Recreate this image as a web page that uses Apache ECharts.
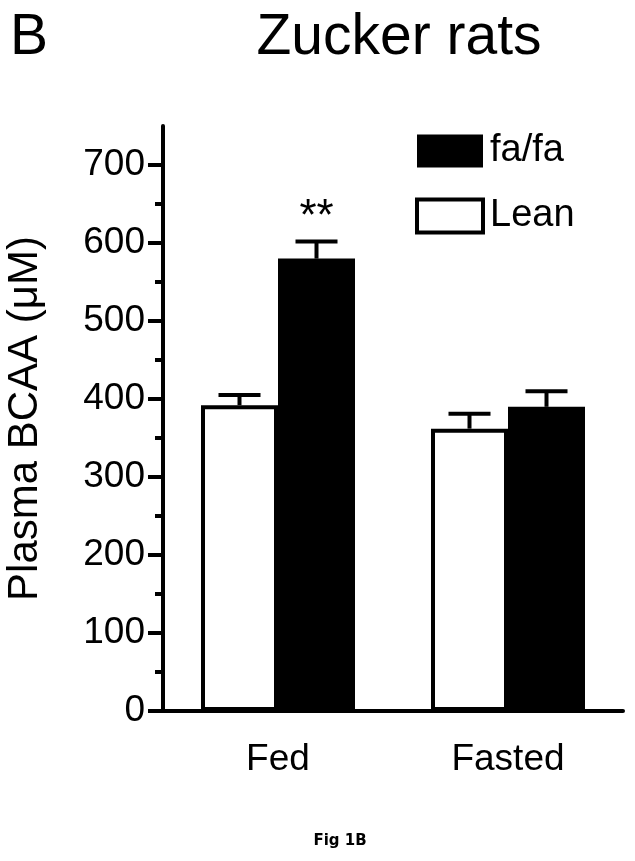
<!DOCTYPE html>
<html lang="en">
  <head>
    <meta charset="UTF-8" />
    <title>Zucker rats - Plasma BCAA</title>
    <script src="https://cdnjs.cloudflare.com/ajax/libs/echarts/6.0.0/echarts.min.js"></script>
    <style>
      html,
      body {
        margin: 0;
        padding: 0;
        background: #fff;
      }
      #chart {
        width: 635px;
        height: 861px;
      }
    </style>
  </head>
  <body>
    <div id="chart"></div>
    <script type="text/javascript">
      // data
      const categories = ["Fed", "Fasted"];
      const leanMean = [392, 362];
      const leanSem = [13, 19];
      const fafaMean = [580, 390];
      const fafaSem = [22, 20];
      const fafaSig = ["**", ""];
      const yMajorTicks = [0, 100, 200, 300, 400, 500, 600, 700];
      const yMinorTicks = [50, 150, 250, 350, 450, 550, 650];

      const font = "Liberation Sans";
      const barWidth = 77;
      const capWidth = 42;

      const dom = document.getElementById("chart");
      const myChart = echarts.init(dom);

      // error bars (upper only) drawn on top of the bars
      const errorSeries = (means, sems, side, sig) => ({
        type: "custom",
        z: 5,
        silent: true,
        data: means.map((m, i) => [i, m, m + sems[i], sig ? sig[i] : ""]),
        renderItem: (params, api) => {
          const base = api.coord([api.value(0), api.value(1)]);
          const top = api.coord([api.value(0), api.value(2)]);
          const cx = base[0] + (side * barWidth) / 2;
          const style = { stroke: "#000", lineWidth: 4 };
          const children = [
            {
              type: "line",
              shape: { x1: cx, y1: base[1], x2: cx, y2: top[1] },
              style: style,
            },
            {
              type: "line",
              shape: {
                x1: cx - capWidth / 2,
                y1: top[1],
                x2: cx + capWidth / 2,
                y2: top[1],
              },
              style: style,
            },
          ];
          const txt = api.value(3);
          if (txt) {
            children.push({
              type: "text",
              x: cx,
              y: top[1] - 24,
              style: {
                text: txt,
                fill: "#000",
                font: "44px " + font,
                align: "center",
                verticalAlign: "middle",
              },
            });
          }
          return { type: "group", children: children };
        },
      });

      const options = {
        animation: false,
        textStyle: { fontFamily: font, color: "#000" },
        title: [
          {
            text: "B",
            left: 10,
            top: 10,
            padding: 0,
            textStyle: { fontSize: 57, fontWeight: "normal", color: "#000", fontFamily: font },
          },
          {
            text: "Zucker rats",
            left: 399,
            top: 10,
            padding: 0,
            textAlign: "center",
            textStyle: { fontSize: 57, fontWeight: "normal", color: "#000", fontFamily: font },
          },
          {
            text: "Fig 1B",
            left: 340,
            top: 834,
            padding: 0,
            textAlign: "center",
            textStyle: { fontSize: 15, fontWeight: "bold", color: "#000", fontFamily: "DejaVu Sans" },
          },
        ],
        legend: {
          orient: "vertical",
          left: 415,
          top: 132,
          padding: 0,
          itemWidth: 66,
          itemHeight: 33,
          itemGap: 27,
          selectedMode: false,
          textStyle: { fontSize: 38, color: "#000", fontFamily: font, padding: [0, 0, 0, 2] },
          data: [
            { name: "fa/fa", icon: "rect", itemStyle: { color: "#000", borderWidth: 0 } },
            {
              name: "Lean",
              icon: "rect",
              itemStyle: { color: "#fff", borderColor: "#000", borderWidth: 4 },
            },
          ],
        },
        grid: {
          left: 163,
          right: 12,
          top: 126,
          bottom: 150,
          containLabel: false,
          outerBoundsMode: "none",
        },
        xAxis: {
          type: "category",
          data: categories,
          axisLine: { lineStyle: { color: "#000", width: 4 } },
          axisTick: { show: false },
          axisLabel: { color: "#000", fontSize: 37, margin: 30, fontFamily: font },
        },
        yAxis: [
          {
            type: "value",
            min: 0,
            max: 750,
            name: "Plasma BCAA (\u03bcM)",
            nameLocation: "middle",
            nameGap: 117,
            nameTextStyle: { fontSize: 42, color: "#000", fontFamily: font },
            splitLine: { show: false },
            axisLine: { show: true, lineStyle: { color: "#000", width: 4 } },
            axisTick: {
              show: true,
              length: 15,
              customValues: yMajorTicks,
              lineStyle: { color: "#000", width: 4 },
            },
            axisLabel: {
              color: "#000",
              fontSize: 37,
              margin: 18,
              customValues: yMajorTicks,
              fontFamily: font,
            },
          },
          {
            // minor ticks
            type: "value",
            min: 0,
            max: 750,
            position: "left",
            splitLine: { show: false },
            axisLine: { show: false },
            axisTick: {
              show: true,
              length: 8,
              customValues: yMinorTicks,
              lineStyle: { color: "#000", width: 4 },
            },
            axisLabel: { show: false },
          },
        ],
        series: [
          {
            name: "Lean",
            type: "bar",
            barWidth: barWidth,
            barGap: "0%",
            itemStyle: { color: "#fff", borderColor: "#000", borderWidth: 4 },
            data: leanMean,
          },
          {
            name: "fa/fa",
            type: "bar",
            barWidth: barWidth,
            barGap: "0%",
            itemStyle: { color: "#000", borderColor: "#000", borderWidth: 0 },
            data: fafaMean,
          },
          errorSeries(leanMean, leanSem, -1),
          errorSeries(fafaMean, fafaSem, 1, fafaSig),
        ],
      };
      myChart.setOption(options);
    </script>
  </body>
</html>
